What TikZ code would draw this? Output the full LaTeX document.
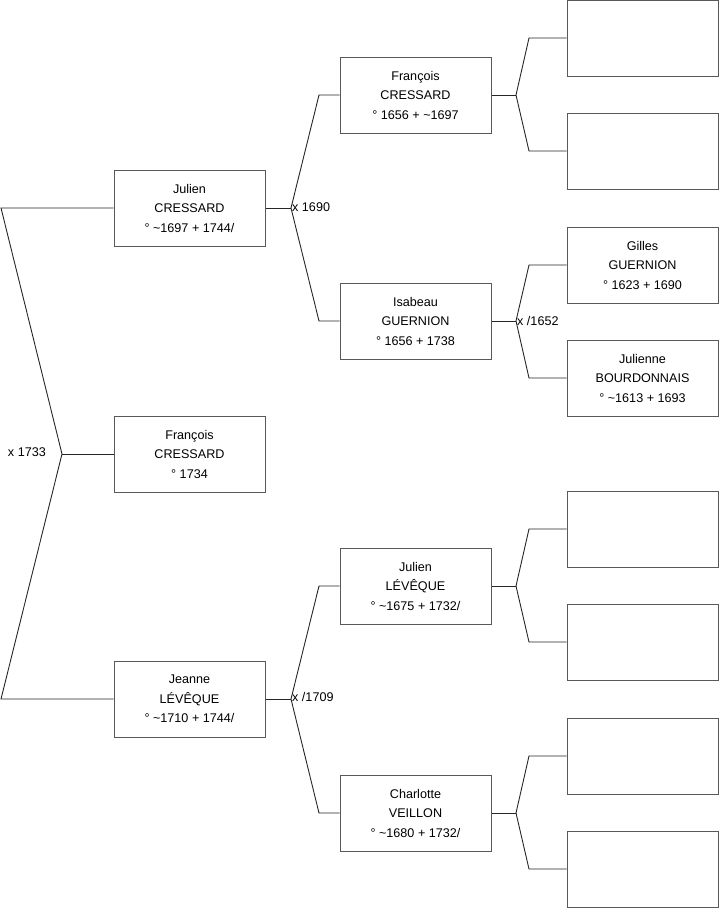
\documentclass[tikz,border=0pt]{standalone}
\usepackage{fontspec}
\setmainfont{Liberation Sans}
\begin{document}
\begin{tikzpicture}[x=1pt,y=-1pt,
  person/.style={draw=black!65,line width=1pt,fill=white,minimum width=151pt,minimum height=76pt,inner sep=0pt,align=center,font=\fontsize{12.6}{19.5}\selectfont},
  conn/.style={draw=black!85,line width=0.9pt},
  mlabel/.style={font=\fontsize{12.6}{15}\selectfont,inner sep=1pt}]
\useasboundingbox (0,0) rectangle (719,908);
% level 1
\node[person] (jc) at (189.5,208) {Julien\\CRESSARD\\° \textasciitilde1697 + 1744/};
\node[person] (fcb) at (189.5,454) {François\\CRESSARD\\° 1734};
\node[person] (jl) at (189.5,699) {Jeanne\\LÉVÊQUE\\° \textasciitilde1710 + 1744/};
% level 2
\node[person] (fc) at (415.5,95) {François\\CRESSARD\\° 1656 + \textasciitilde1697};
\node[person] (ig) at (415.5,321) {Isabeau\\GUERNION\\° 1656 + 1738};
\node[person] (jlv) at (415.5,586) {Julien\\LÉVÊQUE\\° \textasciitilde1675 + 1732/};
\node[person] (cv) at (415.5,813) {Charlotte\\VEILLON\\° \textasciitilde1680 + 1732/};
% level 3
\node[person] (p1) at (642.5,38) {};
\node[person] (p2) at (642.5,151) {};
\node[person] (gg) at (642.5,265) {Gilles\\GUERNION\\° 1623 + 1690};
\node[person] (jb) at (642.5,378) {Julienne\\BOURDONNAIS\\° \textasciitilde1613 + 1693};
\node[person] (p5) at (642.5,529) {};
\node[person] (p6) at (642.5,642) {};
\node[person] (p7) at (642.5,756) {};
\node[person] (p8) at (642.5,869) {};
% root bracket
\coordinate (a0) at (1,208);
\coordinate (a1) at (62,454);
\coordinate (a2) at (1,699);
\draw[conn] (jc.west) -- (a0) -- (a1) -- (a2) -- (jl.west);
\draw[conn] (a1) -- (fcb.west);
\node[mlabel,anchor=east] (l0) at (47,452) {x 1733};
% level 1 -> 2
\coordinate (f1) at (291,208);
\coordinate (u1) at (319,95);
\coordinate (d1) at (319,321);
\draw[conn] (jc.east) -- (f1);
\draw[conn] (fc.west) -- (u1) -- (f1) -- (d1) -- (ig.west);
\node[mlabel,anchor=west] (l1) at (291,207) {x 1690};
\coordinate (f2) at (291,699);
\coordinate (u2) at (319,586);
\coordinate (d2) at (319,813);
\draw[conn] (jl.east) -- (f2);
\draw[conn] (jlv.west) -- (u2) -- (f2) -- (d2) -- (cv.west);
\node[mlabel,anchor=west] (l2) at (291,697) {x /1709};
% level 2 -> 3
\coordinate (g1) at (516,95);
\coordinate (g1u) at (529,38);
\coordinate (g1d) at (529,151);
\draw[conn] (fc.east) -- (g1);
\draw[conn] (p1.west) -- (g1u) -- (g1) -- (g1d) -- (p2.west);
\coordinate (g2) at (516,321);
\coordinate (g2u) at (529,265);
\coordinate (g2d) at (529,378);
\draw[conn] (ig.east) -- (g2);
\draw[conn] (gg.west) -- (g2u) -- (g2) -- (g2d) -- (jb.west);
\node[mlabel,anchor=west] (l3) at (516,321) {x /1652};
\coordinate (g3) at (516,586);
\coordinate (g3u) at (529,529);
\coordinate (g3d) at (529,642);
\draw[conn] (jlv.east) -- (g3);
\draw[conn] (p5.west) -- (g3u) -- (g3) -- (g3d) -- (p6.west);
\coordinate (g4) at (516,813);
\coordinate (g4u) at (529,756);
\coordinate (g4d) at (529,869);
\draw[conn] (cv.east) -- (g4);
\draw[conn] (p7.west) -- (g4u) -- (g4) -- (g4d) -- (p8.west);
\end{tikzpicture}
\end{document}
